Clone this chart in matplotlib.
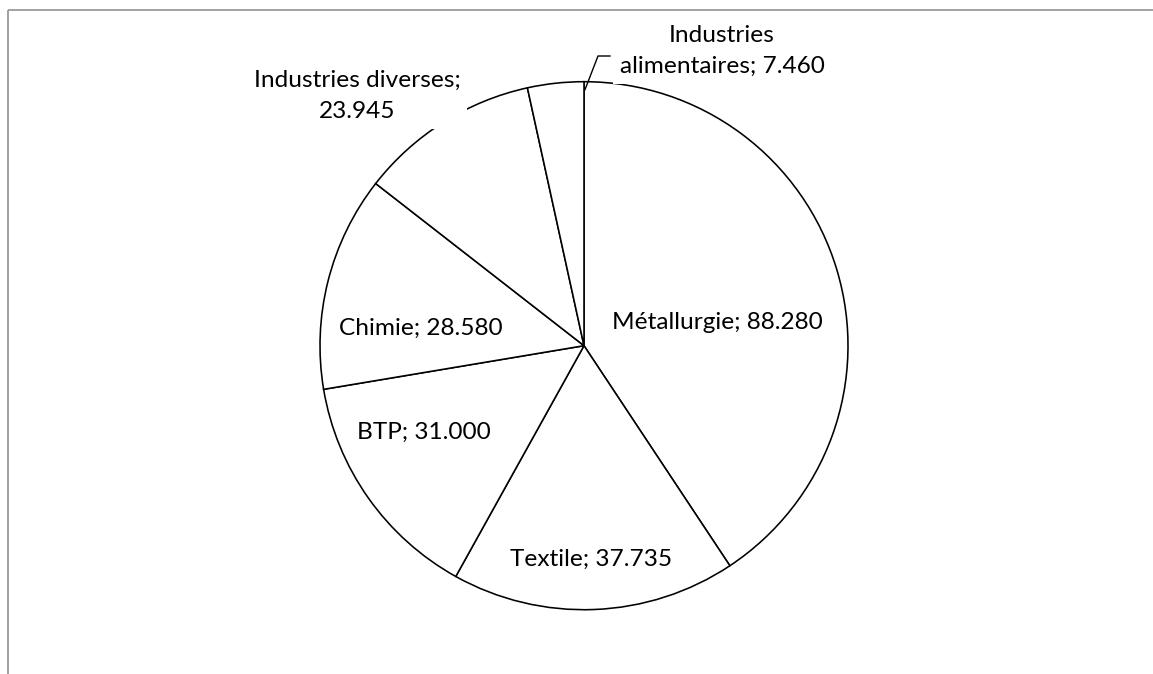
import numpy as np
import matplotlib
matplotlib.use("Agg")
import matplotlib.pyplot as plt

# données
secteurs = ["Métallurgie", "Textile", "BTP", "Chimie",
            "Industries diverses", "Industries alimentaires"]
valeurs = [88.280, 37.735, 31.000, 28.580, 23.945, 7.460]
etiquettes = ["Métallurgie; 88.280", "Textile; 37.735", "BTP; 31.000",
              "Chimie; 28.580", "Industries diverses;\n23.945",
              "Industries\nalimentaires; 7.460"]

W, H = 1153, 674
FONT = "Lato"

fig = plt.figure(figsize=(W / 100, H / 100), dpi=100)
ax = fig.add_axes([0, 0, 1, 1])

# cadre gris (seuls les bords haut et gauche sont visibles)
ax.plot([7.5, W], [H - 9.5, H - 9.5], color="#9a9a9a", lw=1.3, solid_capstyle="butt")
ax.plot([7.5, 7.5], [0, H - 9.5], color="#9a9a9a", lw=1.3, solid_capstyle="butt")

cx, cy, r = 584, H - 345.7, 264
wedges, _ = ax.pie(valeurs, startangle=90, counterclock=False,
                   center=(cx, cy), radius=r, frame=True,
                   wedgeprops=dict(facecolor="white", edgecolor="black", linewidth=1.15))
ax.set_xlim(0, W)
ax.set_ylim(0, H)
ax.axis("off")

# taille de police ajustée sur la largeur du texte de référence
fig.canvas.draw()
rend = fig.canvas.get_renderer()
t = ax.text(0, 0, etiquettes[0], fontsize=10, family=FONT)
fs = 10 * 210 / t.get_window_extent(rend).width
t.remove()

# positions des étiquettes (pixels, origine en haut à gauche, ligne de base)
pos = [(717.7, 329.3), (591, 566), (424, 439.3), (421, 335),
       (357, 118), (722, 73.3)]

for i, (lab, (x, y)) in enumerate(zip(etiquettes, pos)):
    kw = {}
    if i >= 4:
        kw["bbox"] = dict(facecolor="white", edgecolor="none", pad=5)
    ax.text(x, H - y, lab, fontsize=fs, family=FONT, ha="center", va="baseline",
            multialignment="center", linespacing=1.6, color="black", zorder=5, **kw)

# trait de rappel pour Industries alimentaires (bord du secteur à 90°)
w = wedges[-1]
a = np.deg2rad(min(w.theta1, w.theta2) % 360)
x0, y0 = cx + 0.97 * r * np.cos(a), cy + 0.97 * r * np.sin(a)
ax.plot([x0 + 1, 598, 610], [y0, H - 56, H - 56], color="black", lw=1.0, zorder=6)

fig.savefig("out.png", dpi=100, facecolor="white")
